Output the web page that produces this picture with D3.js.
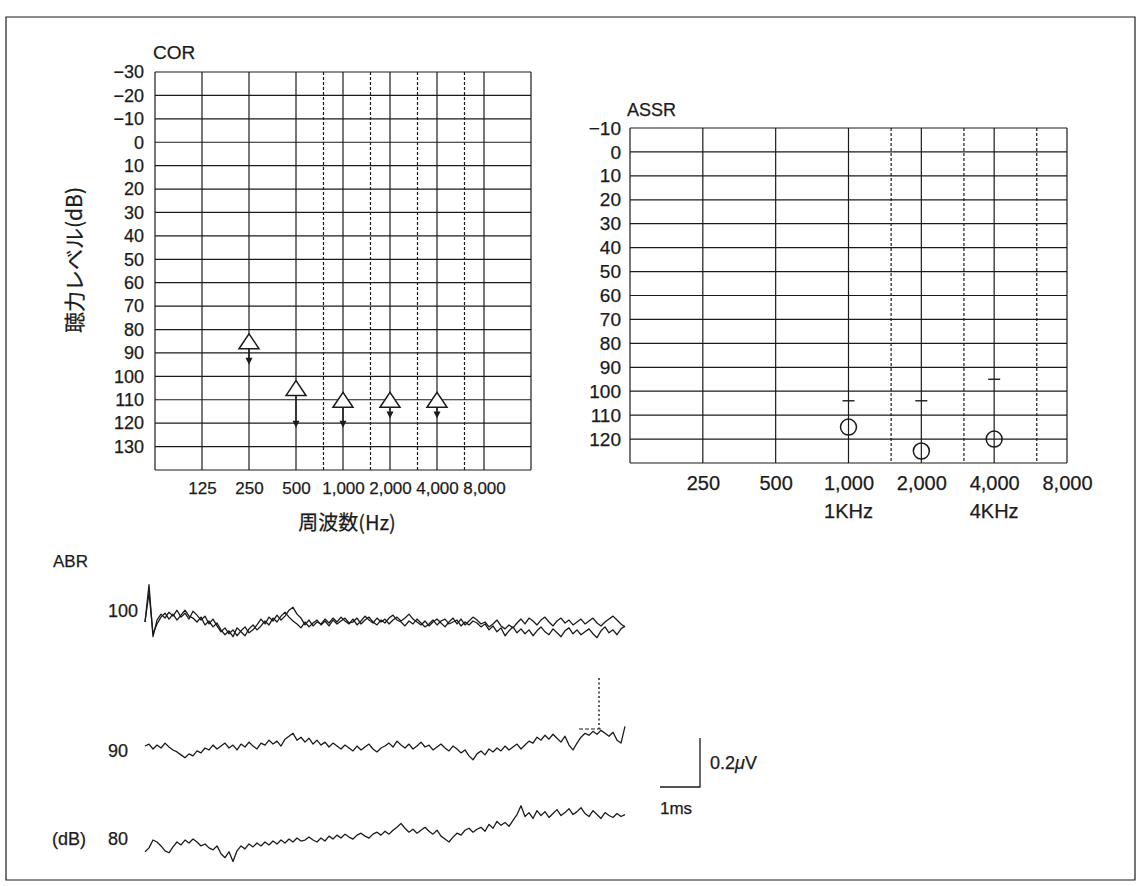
<!DOCTYPE html>
<html>
<head>
<meta charset="utf-8">
<script src="https://cdn.jsdelivr.net/npm/d3@7"></script>
<style>
  body { margin: 0; background: #fff; }
  svg { display: block; font-family: "Liberation Sans", Arial, sans-serif; }
  svg text { stroke: #1b1b1b; stroke-width: 0.25; }
</style>
</head>
<body>
<svg id="chart" width="1139" height="886"></svg>
<script>
// ---- data ----
// COR audiogram
const corFreqs = [125, 250, 500, 1000, 2000, 4000, 8000];
const corFreqLabels = ["125", "250", "500", "1,000", "2,000", "4,000", "8,000"];
const corHalfFreqs = [750, 1500, 3000, 6000];
const corLevels = [-30, -20, -10, 0, 10, 20, 30, 40, 50, 60, 70, 80, 90, 100, 110, 120, 130];
const corMarkFreqs = [250, 500, 1000, 2000, 4000];
const corThresholds = [85, 105, 110, 110, 110];
const corArrowEnds = [95, 122, 122, 118, 118];

// ASSR audiogram
const assrFreqs = [250, 500, 1000, 2000, 4000, 8000];
const assrFreqLabels = ["250", "500", "1,000", "2,000", "4,000", "8,000"];
const assrSubLabels = ["", "", "1KHz", "", "4KHz", ""];
const assrHalfFreqs = [1500, 3000, 6000];
const assrLevels = [-10, 0, 10, 20, 30, 40, 50, 60, 70, 80, 90, 100, 110, 120];
const assrMarkFreqs = [1000, 2000, 4000];
const assrThresholds = [115, 125, 120];
const assrLimits = [104, 104, 95];

// ABR traces, amplitude in nV, one sample every 0.1 ms
const abrSampleMs = 0.1;
const abr100a = [0, 152, -60, 8, 32, 16, 40, 24, 48, 20, 36, 12, 44, 28, 8, 24, -8, 12, -16, -40, -24, -48, -32, -56, -36, -20, -44, -32, -12, 12, -8, 20, 4, 28, 8, 24, 48, 60, 32, 16, -12, 8, -16, 0, -8, 12, -4, 16, 0, 20, 4, -8, 12, -12, 4, 24, 8, -4, 16, 0, 12, -8, 8, 20, 4, 16, 32, 12, 0, -12, 4, -16, 0, 12, -4, -20, 0, 16, -8, 12, -12, 4, 20, 8, -8, 0, -20, -8, 8, -16, -28, -12, -24, -4, 12, -8, 16, 4, -12, 8, 20, 0, -16, 4, 16, -4, 8, -12, 0, 12, -8, 4, 16, -4, -16, 0, 12, 24, 8, -8, -20];
const abr100b = [0, 120, -48, -8, 20, 36, 12, 32, 8, 28, 48, 24, 16, 0, 20, -12, 4, -20, -4, -32, -52, -36, -60, -24, -40, -56, -28, -12, -32, -16, 4, -12, 16, 0, 24, 40, 20, 4, -8, -24, 0, -20, -4, 8, -12, 4, -16, 8, -8, 4, 16, -4, 0, 16, -8, 8, 20, 0, -12, 8, -4, 16, 28, 8, 0, -16, 4, -8, 12, -4, -20, -8, 8, -12, 4, 12, -8, 0, 8, -16, 0, -12, 4, -4, -20, -8, -32, -16, -40, -24, -56, -36, -20, -44, -28, -48, -32, -56, -36, -20, -40, -52, -28, -44, -60, -36, -24, -48, -32, -52, -40, -28, -48, -64, -36, -20, -44, -32, -52, -28, -16];
const abr90 = [8, 16, -4, 12, 0, 20, 4, -8, -16, -28, -40, -24, -32, -12, -20, 0, -8, 12, -4, 8, 20, 0, 12, -8, 16, 4, 24, 8, -4, 20, 12, 32, 16, 28, 8, 36, 48, 60, 32, 44, 24, 40, 16, 32, 12, 24, 4, 20, 8, -4, 12, 0, -12, 8, -8, 4, 16, -4, -16, 0, 8, 20, 4, 28, 12, 0, 16, -4, 8, 24, 4, 12, -8, 4, 16, 0, -12, 8, -4, -20, -8, -32, -48, -24, -12, -28, -4, -16, 0, -12, 8, -8, 4, 16, -4, 12, 28, 20, 44, 32, 52, 36, 56, 40, 24, 48, 12, -8, 20, 44, 60, 52, 68, 56, 72, 60, 48, 64, 32, 20, 88];
const abr80 = [-40, -24, 8, 0, -16, -36, -44, -20, 0, -12, 8, -4, 12, 0, -16, -8, -24, -32, -16, -48, -64, -40, -80, -36, -16, -28, -8, -20, -4, -16, 0, -12, 4, -8, 8, -4, 12, 0, 16, 4, 8, 20, 8, 0, 16, 4, 24, 12, 28, 16, 32, 20, 12, 28, 36, 24, 16, 32, 40, 28, 44, 32, 48, 60, 76, 56, 40, 52, 36, 48, 60, 44, 32, 48, 24, 12, 0, 20, 36, 28, 48, 56, 40, 52, 60, 44, 72, 56, 84, 68, 80, 64, 88, 112, 148, 104, 120, 96, 128, 108, 124, 100, 116, 132, 108, 120, 136, 112, 124, 140, 116, 104, 128, 112, 96, 120, 108, 100, 116, 104, 112];
const abrMarkMs = 11.35;

// ---- drawing ----
const svg = d3.select("#chart");
const ink = "#1b1b1b";
const minus = d => d < 0 ? "\u2212" + Math.abs(d) : String(d);

svg.append("rect").attr("width", 1139).attr("height", 886).attr("fill", "#fff");
// page frame
svg.append("path")
  .attr("d", "M6,880 L6,17 L1135,17 L1135,880 Z")
  .attr("fill", "none").attr("stroke", ink).attr("stroke-width", 1.2);

function audiogram(x, y, solid, dashed, hLines) {
  const g = svg.append("g");
  const [x0, x1] = x.range();
  const [y0, y1] = y.range();
  g.selectAll(".h").data(hLines).join("line").attr("class", "h")
    .attr("x1", x0).attr("x2", x1)
    .attr("y1", d => y(d)).attr("y2", d => y(d))
    .attr("stroke", ink).attr("stroke-width", 1.2);
  g.selectAll(".v").data(solid).join("line").attr("class", "v")
    .attr("x1", d => x(d)).attr("x2", d => x(d))
    .attr("y1", y0).attr("y2", y1)
    .attr("stroke", ink).attr("stroke-width", 1.2);
  g.selectAll(".vd").data(dashed).join("line").attr("class", "vd")
    .attr("x1", d => x(d)).attr("x2", d => x(d))
    .attr("y1", y0).attr("y2", y1)
    .attr("stroke", ink).attr("stroke-width", 1.2)
    .attr("stroke-dasharray", "3,2");
  return g;
}

function styleAxis(ax, size, family) {
  ax.select(".domain").remove();
  ax.selectAll("text").attr("fill", ink).attr("font-size", size)
    .attr("font-family", family || "'Liberation Sans', Arial, sans-serif");
}

// ===== COR =====
const corX = d3.scaleLog().base(2).domain([62.5, 16000]).range([155, 531]);
const corY = d3.scaleLinear().domain([-30, 140]).range([72, 470]);
const corG = audiogram(corX, corY,
  [62.5].concat(corFreqs, [16000]), corHalfFreqs, d3.range(-30, 150, 10));

const corYAxis = svg.append("g").attr("transform", `translate(${corX.range()[0]},0)`)
  .call(d3.axisLeft(corY).tickValues(corLevels).tickSize(0).tickPadding(11).tickFormat(minus));
styleAxis(corYAxis, 18);

const corXAxis = svg.append("g").attr("transform", `translate(0,${corY.range()[1]})`)
  .call(d3.axisBottom(corX).tickValues(corFreqs).tickSize(0).tickPadding(12)
    .tickFormat((d, i) => corFreqLabels[i]));
styleAxis(corXAxis, 17, "'Liberation Sans Narrow', 'Liberation Sans', Arial, sans-serif");

svg.append("text").attr("x", 153).attr("y", 59).attr("font-size", 19).attr("fill", ink).text("COR");
svg.append("text").attr("x", 347).attr("y", 530).attr("text-anchor", "middle")
  .attr("font-family", "'Noto Sans CJK JP', sans-serif").attr("font-size", 20).attr("fill", ink)
  .text("周波数(Hz)");
svg.append("text").attr("transform", "translate(72.5,260) rotate(-90)")
  .attr("text-anchor", "middle").attr("dominant-baseline", "central")
  .attr("font-family", "'Noto Sans CJK JP', sans-serif").attr("font-size", 21).attr("fill", ink)
  .text("聴力レベル(dB)");

const corMarks = corMarkFreqs.map((f, i) => ({ f, v: corThresholds[i], end: corArrowEnds[i] }));
const tri = "M-10,7.5 L0,-7.5 L10,7.5 Z";
const cm = corG.selectAll(".cm").data(corMarks).join("g").attr("class", "cm");
cm.append("line")
  .attr("x1", d => corX(d.f)).attr("x2", d => corX(d.f))
  .attr("y1", d => corY(d.v) + 7.5).attr("y2", d => corY(d.end) - 5)
  .attr("stroke", ink).attr("stroke-width", 1.4);
cm.append("path")
  .attr("d", d => `M${corX(d.f) - 3.5},${corY(d.end) - 7} L${corX(d.f) + 3.5},${corY(d.end) - 7} L${corX(d.f)},${corY(d.end)} Z`)
  .attr("fill", ink);
cm.append("path").attr("d", tri)
  .attr("transform", d => `translate(${corX(d.f)},${corY(d.v)})`)
  .attr("fill", "#fff").attr("stroke", ink).attr("stroke-width", 1.5);

// ===== ASSR =====
const assrX = d3.scaleLog().base(2).domain([125, 8000]).range([630, 1067]);
const assrY = d3.scaleLinear().domain([-10, 130]).range([128, 463]);
const assrG = audiogram(assrX, assrY,
  [125].concat(assrFreqs), assrHalfFreqs, d3.range(-10, 140, 10));

const assrYAxis = svg.append("g").attr("transform", `translate(${assrX.range()[0]},0)`)
  .call(d3.axisLeft(assrY).tickValues(assrLevels).tickSize(0).tickPadding(9).tickFormat(minus));
styleAxis(assrYAxis, 19);

const assrXAxis = svg.append("g").attr("transform", `translate(0,${assrY.range()[1]})`)
  .call(d3.axisBottom(assrX).tickValues(assrFreqs).tickSize(0).tickPadding(13)
    .tickFormat((d, i) => assrFreqLabels[i]));
styleAxis(assrXAxis, 20);

svg.append("g").selectAll("text").data(assrFreqs.map((f, i) => ({ f, t: assrSubLabels[i] })).filter(d => d.t))
  .join("text")
  .attr("x", d => assrX(d.f)).attr("y", 518).attr("text-anchor", "middle")
  .attr("font-size", 20).attr("fill", ink).text(d => d.t);

svg.append("text").attr("x", 627).attr("y", 116).attr("font-size", 18).attr("fill", ink).text("ASSR");

const assrMarks = assrMarkFreqs.map((f, i) => ({ f, v: assrThresholds[i], lim: assrLimits[i] }));
const am = assrG.selectAll(".am").data(assrMarks).join("g").attr("class", "am");
am.append("line")
  .attr("x1", d => assrX(d.f) - 6).attr("x2", d => assrX(d.f) + 6)
  .attr("y1", d => assrY(d.lim)).attr("y2", d => assrY(d.lim))
  .attr("stroke", ink).attr("stroke-width", 1.4);
am.append("circle")
  .attr("cx", d => assrX(d.f)).attr("cy", d => assrY(d.v)).attr("r", 8)
  .attr("fill", "none").attr("stroke", ink).attr("stroke-width", 1.5);

// ===== ABR =====
const abrX = d3.scaleLinear().domain([0, 12]).range([145, 625]);
const abrRow = base => d3.scaleLinear().domain([-200, 200]).range([base + 49, base - 49]);
const abrRows = [
  { label: "100", traces: [abr100a, abr100b], y: abrRow(622), ly: 617 },
  { label: "90", traces: [abr90], y: abrRow(748), ly: 757 },
  { label: "80", traces: [abr80], y: abrRow(842), ly: 845 }
];
abrRows.forEach(row => {
  const line = d3.line().x((d, i) => abrX(i * abrSampleMs)).y(d => row.y(d));
  svg.append("g").selectAll("path").data(row.traces).join("path")
    .attr("d", line).attr("fill", "none")
    .attr("stroke", ink).attr("stroke-width", 1.3).attr("stroke-linejoin", "round");
  svg.append("text").attr("x", 108).attr("y", row.ly)
    .attr("font-size", 18).attr("fill", ink).text(row.label);
});
svg.append("text").attr("x", 52).attr("y", 845).attr("font-size", 18).attr("fill", ink).text("(dB)");
svg.append("text").attr("x", 53).attr("y", 567).attr("font-size", 17).attr("fill", ink).text("ABR");

// wave V marker on 90 dB trace
const mx = abrX(abrMarkMs);
svg.append("line").attr("x1", mx).attr("x2", mx).attr("y1", 678).attr("y2", 729)
  .attr("stroke", ink).attr("stroke-width", 1.4).attr("stroke-dasharray", "2,2.5");
svg.append("line").attr("x1", mx - 20).attr("x2", mx + 3).attr("y1", 729).attr("y2", 729)
  .attr("stroke", ink).attr("stroke-width", 1).attr("stroke-dasharray", "4,2");

// scale bar: 1 ms x 0.2 uV
const sbY = abrRow(787);
const sbX = 700;
const sbW = abrX(1) - abrX(0);
svg.append("path")
  .attr("d", `M${sbX - sbW},${sbY(0)} L${sbX},${sbY(0)} L${sbX},${sbY(200)}`)
  .attr("fill", "none").attr("stroke", ink).attr("stroke-width", 1.3);
const uv = svg.append("text").attr("x", 710).attr("y", 769).attr("font-size", 18).attr("fill", ink);
uv.append("tspan").text("0.2");
uv.append("tspan").attr("font-style", "italic").text("\u03bc");
uv.append("tspan").text("V");
svg.append("text").attr("x", 660).attr("y", 814).attr("font-size", 17).attr("fill", ink).text("1ms");
</script>
</body>
</html>
